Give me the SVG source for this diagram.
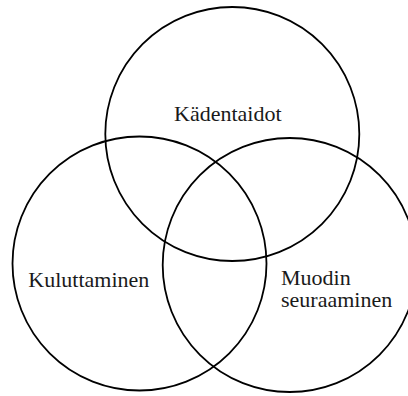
<svg xmlns="http://www.w3.org/2000/svg" width="408" height="396" viewBox="0 0 408 396">
<style>
.c{fill:none;stroke:#000;stroke-width:1.8}
.t{font-family:"Liberation Serif","Times New Roman",serif;font-size:22px;fill:#1a1a1a}
</style>
<rect width="408" height="396" fill="#fff"/>
<g id="kadentaidot"><circle class="c" cx="232.3" cy="134" r="127"/><text class="t" x="174" y="120.5">Kädentaidot</text></g>
<g id="kuluttaminen"><circle class="c" cx="139.5" cy="263.5" r="127"/><text class="t" x="28.3" y="287.3">Kuluttaminen</text></g>
<g id="muodin"><circle class="c" cx="289.7" cy="265" r="127"/><text class="t" x="281" y="284.5">Muodin</text><text class="t" x="281" y="307">seuraaminen</text></g>
<g id="connectors"/>
</svg>
